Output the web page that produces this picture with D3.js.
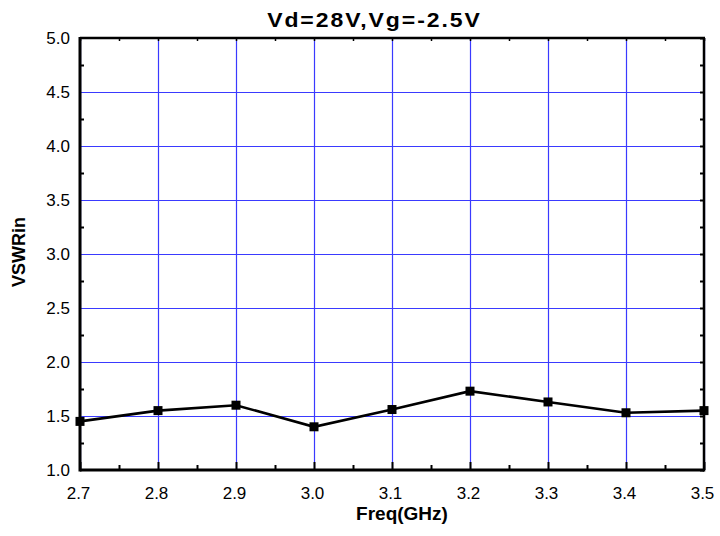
<!DOCTYPE html>
<html>
<head>
<meta charset="utf-8">
<script src="https://cdn.jsdelivr.net/npm/d3@7"></script>
<style>
  body { margin: 0; background: #fff; }
  text { font-family: "Liberation Sans", Arial, sans-serif; }
</style>
</head>
<body>
<script>
// data
let freq = [2.7, 2.8, 2.9, 3.0, 3.1, 3.2, 3.3, 3.4, 3.5];
let vswr = [1.45, 1.55, 1.60, 1.40, 1.56, 1.73, 1.63, 1.53, 1.55];
let xTicks = [2.7, 2.8, 2.9, 3.0, 3.1, 3.2, 3.3, 3.4, 3.5];
let yTicks = [1.0, 1.5, 2.0, 2.5, 3.0, 3.5, 4.0, 4.5, 5.0];
let titleText = "Vd=28V,Vg=-2.5V";
let xLabel = "Freq(GHz)";
let yLabel = "VSWRin";

// set the dimensions and margins of the graph
let margin = {top: 38, right: 16, bottom: 66, left: 80},
    width = 720 - margin.left - margin.right,
    height = 536 - margin.top - margin.bottom;

let x = d3.scaleLinear().domain([2.7, 3.5]).range([0, width]);
let y = d3.scaleLinear().domain([1, 5]).range([height, 0]);

let svg = d3.select("body").append("svg")
    .attr("width", 720)
    .attr("height", 536);

let g = svg.append("g")
    .attr("transform", "translate(" + margin.left + "," + margin.top + ")");

// grid lines
g.append("g")
    .call(d3.axisBottom(x).tickValues(xTicks).tickSize(-height).tickFormat(""))
    .attr("transform", "translate(0," + height + ")")
    .call(s => s.select(".domain").remove())
    .selectAll("line").attr("stroke", "#3a3aff").attr("stroke-width", 1.2);

g.append("g")
    .call(d3.axisLeft(y).tickValues(yTicks).tickSize(-width).tickFormat(""))
    .call(s => s.select(".domain").remove())
    .selectAll("line").attr("stroke", "#3a3aff").attr("stroke-width", 1.2);

// minor ticks
let xMinor = d3.range(2.75, 3.5, 0.1);
let yMinor = d3.range(1.25, 5, 0.5);

// bottom axis: labels and inward ticks
let xAxis = g.append("g")
    .attr("transform", "translate(0," + height + ")")
    .call(d3.axisBottom(x).tickValues(xTicks).tickSize(-8).tickPadding(17)
        .tickFormat(d3.format(".1f")));
xAxis.select(".domain").remove();
xAxis.selectAll("line").attr("stroke", "#000").attr("stroke-width", 2);
xAxis.selectAll("text").attr("font-size", 17).attr("fill", "#000").attr("dx", -2);

g.append("g")
    .attr("transform", "translate(0," + height + ")")
    .call(d3.axisBottom(x).tickValues(xMinor).tickSize(-5).tickFormat(""))
    .call(s => s.select(".domain").remove())
    .selectAll("line").attr("stroke", "#000").attr("stroke-width", 2);

// top axis ticks
g.append("g")
    .call(d3.axisTop(x).tickValues(xTicks.concat(xMinor)).tickSize(-3).tickFormat(""))
    .call(s => s.select(".domain").remove())
    .selectAll("line").attr("stroke", "#000").attr("stroke-width", 1.5);

// left axis
let yAxis = g.append("g")
    .call(d3.axisLeft(y).tickValues(yTicks).tickSize(0).tickPadding(10)
        .tickFormat(d3.format(".1f")));
yAxis.select(".domain").remove();
yAxis.selectAll("text").attr("font-size", 17).attr("fill", "#000");

g.append("g")
    .call(d3.axisLeft(y).tickValues(yMinor).tickSize(-4).tickFormat(""))
    .call(s => s.select(".domain").remove())
    .selectAll("line").attr("stroke", "#000").attr("stroke-width", 2);

// right axis ticks
g.append("g")
    .attr("transform", "translate(" + width + ",0)")
    .call(d3.axisRight(y).tickValues(yTicks.concat(yMinor)).tickSize(-4).tickFormat(""))
    .call(s => s.select(".domain").remove())
    .selectAll("line").attr("stroke", "#000").attr("stroke-width", 2);

// frame
g.append("line").attr("x1", 0).attr("x2", width).attr("y1", height).attr("y2", height)
    .attr("stroke", "#000").attr("stroke-width", 3);
g.append("line").attr("x1", 0).attr("x2", 0).attr("y1", -1).attr("y2", height + 1.5)
    .attr("stroke", "#000").attr("stroke-width", 3);
g.append("line").attr("x1", 0).attr("x2", width + 1).attr("y1", 0).attr("y2", 0)
    .attr("stroke", "#000").attr("stroke-width", 2.5);
g.append("line").attr("x1", width).attr("x2", width).attr("y1", 0).attr("y2", height + 1.5)
    .attr("stroke", "#000").attr("stroke-width", 2.5);

// data line
let data = freq.map((f, i) => ({f: f, v: vswr[i]}));
let valueline = d3.line()
    .x(d => x(d.f))
    .y(d => y(d.v));

g.append("path")
    .datum(data)
    .attr("fill", "none")
    .attr("stroke", "#000")
    .attr("stroke-width", 2.6)
    .attr("d", valueline);

g.selectAll(".pt")
    .data(data)
    .enter().append("rect")
    .attr("class", "pt")
    .attr("x", d => x(d.f) - 4.5)
    .attr("y", d => y(d.v) - 4.5)
    .attr("width", 9)
    .attr("height", 9)
    .attr("fill", "#000");

// titles
svg.append("text")
    .attr("transform", "translate(373.5,26.5) scale(1.15,1)")
    .attr("text-anchor", "middle")
    .attr("font-size", 20)
    .attr("font-weight", "bold")
    .attr("textLength", 185)
    .attr("lengthAdjust", "spacing")
    .text(titleText);

svg.append("text")
    .attr("x", 402)
    .attr("y", 520)
    .attr("text-anchor", "middle")
    .attr("font-size", 19)
    .attr("font-weight", "bold")
    .text(xLabel);

svg.append("text")
    .attr("transform", "translate(25,252) rotate(-90)")
    .attr("text-anchor", "middle")
    .attr("font-size", 18)
    .attr("font-weight", "bold")
    .text(yLabel);
</script>
</body>
</html>
